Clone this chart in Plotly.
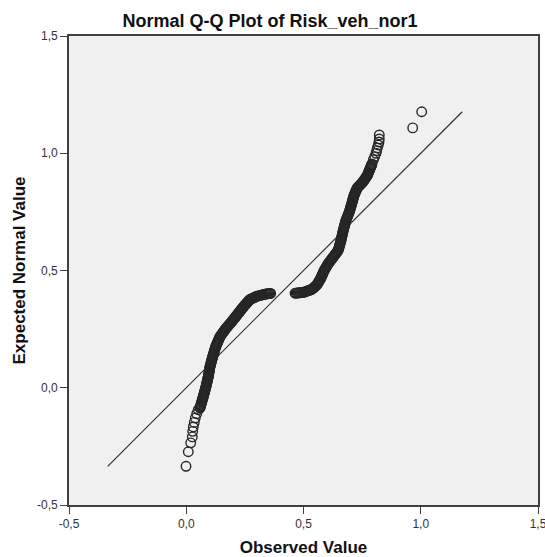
import plotly.graph_objects as go

# Lower tail, left branch, right branch, upper tail
observed = [
    -0.001, 0.0087, 0.019, 0.0258, 0.0275, 0.030, 0.0343, 0.0386, 0.0446, 0.0514,
    0.0586, 0.0610, 0.0633, 0.0657, 0.0680, 0.0704,
    0.0727, 0.0750, 0.0773, 0.0796, 0.0819,
    0.0842, 0.0862, 0.0881, 0.0901, 0.0920,
    0.0940, 0.0955, 0.0969, 0.0984, 0.0998,
    0.1013, 0.1036, 0.1059, 0.1082, 0.1105,
    0.1128, 0.1154, 0.1179, 0.1205, 0.1230,
    0.1256, 0.1293, 0.1329, 0.1366, 0.1402,
    0.1439, 0.1490, 0.1541, 0.1593, 0.1644,
    0.1695, 0.1756, 0.1817, 0.1877,
    0.1938, 0.1994, 0.2051, 0.2107, 0.2164,
    0.2220, 0.2269, 0.2317, 0.2366, 0.2414,
    0.2463, 0.2514, 0.2565, 0.2617, 0.2668,
    0.2719, 0.2797, 0.2875, 0.2952,
    0.3030, 0.3112, 0.3194, 0.3276,
    0.3358, 0.3439, 0.3520, 0.3601,
    0.4638, 0.4726, 0.4814, 0.4902,
    0.4990, 0.5080, 0.5170, 0.5260,
    0.5350, 0.5421, 0.5492,
    0.5563, 0.5606, 0.5648, 0.5691,
    0.5733, 0.5768, 0.5804, 0.5839,
    0.5874, 0.5920, 0.5966, 0.6012,
    0.6058, 0.6111, 0.6165, 0.6218,
    0.6271, 0.6324, 0.6378, 0.6431,
    0.6484, 0.6507, 0.6530, 0.6554, 0.6577,
    0.6600, 0.6619, 0.6639, 0.6658, 0.6678,
    0.6697, 0.6720, 0.6743, 0.6766, 0.6789,
    0.6812, 0.6847, 0.6883, 0.6918,
    0.6953, 0.6979, 0.7004, 0.7030,
    0.7055, 0.7080, 0.7104, 0.7129,
    0.7153, 0.7188, 0.7224, 0.7259,
    0.7294, 0.7352, 0.7409, 0.7467,
    0.7524, 0.7573, 0.7622, 0.7671,
    0.7720, 0.7749, 0.7778, 0.7807,
    0.7836, 0.7864, 0.7893, 0.7921,
    0.7977, 0.8036, 0.8092, 0.8121, 0.8147, 0.8190, 0.8220, 0.8232, 0.8232,
    0.9657, 1.004,
    # further points within the dense band
    0.0598, 0.0622, 0.0645, 0.0669, 0.0692, 0.0716,
    0.0739, 0.0762, 0.0785, 0.0808, 0.0831,
    0.0852, 0.0872, 0.0891, 0.0911, 0.0930,
    0.0948, 0.0962, 0.0977, 0.0991, 0.1006,
    0.1025, 0.1048, 0.1071, 0.1094, 0.1117,
    0.1141, 0.1167, 0.1192, 0.1218, 0.1243,
    0.1275, 0.1311, 0.1348, 0.1384, 0.1421,
    0.1465, 0.1516, 0.1567, 0.1619, 0.1670,
    0.1726, 0.1787, 0.1847, 0.1908,
    0.1966, 0.2023, 0.2079, 0.2136, 0.2192,
    0.2245, 0.2293, 0.2342, 0.2390, 0.2439,
    0.2489, 0.2540, 0.2591, 0.2643, 0.2694,
    0.2758, 0.2836, 0.2914, 0.2991,
    0.3071, 0.3153, 0.3235, 0.3317,
    0.3399, 0.3480, 0.3561,
    0.4682, 0.4770, 0.4858, 0.4946,
    0.5035, 0.5125, 0.5215, 0.5305,
    0.5386, 0.5457, 0.5528,
    0.5585, 0.5627, 0.5670, 0.5712,
    0.5751, 0.5786, 0.5822, 0.5857,
    0.5897, 0.5943, 0.5989, 0.6035,
    0.6085, 0.6138, 0.6192, 0.6245,
    0.6298, 0.6351, 0.6405, 0.6458,
    0.6496, 0.6519, 0.6542, 0.6566, 0.6589,
    0.6610, 0.6629, 0.6649, 0.6668, 0.6688,
    0.6709, 0.6732, 0.6755, 0.6778, 0.6801,
    0.6830, 0.6865, 0.6901, 0.6936,
    0.6966, 0.6992, 0.7017, 0.7043,
    0.7068, 0.7092, 0.7117, 0.7141,
    0.7171, 0.7206, 0.7242, 0.7277,
    0.7323, 0.7381, 0.7438, 0.7496,
    0.7549, 0.7598, 0.7647, 0.7696,
    0.7735, 0.7764, 0.7793, 0.7822,
    0.7850, 0.7879, 0.7907,
]
expected = [
    -0.335, -0.273, -0.235, -0.2097, -0.1859, -0.1672, -0.1477, -0.129, -0.1107, -0.0937,
    -0.0865, -0.0783, -0.0701, -0.0619, -0.0536, -0.0454,
    -0.0372, -0.0287, -0.0202, -0.0117, -0.0032,
    0.0053, 0.0138, 0.0223, 0.0308, 0.0393,
    0.0478, 0.0563, 0.0648, 0.0733, 0.0818,
    0.0903, 0.0988, 0.1073, 0.1158, 0.1243,
    0.1328, 0.1413, 0.1498, 0.1583, 0.1668,
    0.1753, 0.1838, 0.1923, 0.2008, 0.2093,
    0.2178, 0.2249, 0.2321, 0.2392, 0.2464,
    0.2535, 0.2605, 0.2676, 0.2746,
    0.2816, 0.2887, 0.2958, 0.3030, 0.3101,
    0.3172, 0.3234, 0.3296, 0.3359, 0.3421,
    0.3483, 0.3540, 0.3597, 0.3653, 0.3710,
    0.3767, 0.3802, 0.3838, 0.3873,
    0.3908, 0.3929, 0.3951, 0.3972,
    0.3993, 0.4003, 0.4012, 0.4022,
    0.4030, 0.4039, 0.4048, 0.4056,
    0.4065, 0.4097, 0.4129, 0.4161,
    0.4193, 0.4254, 0.4314,
    0.4375, 0.4446, 0.4518, 0.4589,
    0.4660, 0.4741, 0.4822, 0.4902,
    0.4983, 0.5062, 0.5141, 0.5219,
    0.5298, 0.5368, 0.5438, 0.5508,
    0.5578, 0.5649, 0.5721, 0.5792,
    0.5863, 0.5948, 0.6033, 0.6118, 0.6203,
    0.6288, 0.6373, 0.6458, 0.6543, 0.6628,
    0.6713, 0.6798, 0.6883, 0.6968, 0.7053,
    0.7138, 0.7226, 0.7315, 0.7403,
    0.7491, 0.7580, 0.7669, 0.7758,
    0.7847, 0.7935, 0.8024, 0.8112,
    0.8200, 0.8282, 0.8364, 0.8445,
    0.8527, 0.8587, 0.8646, 0.8706,
    0.8765, 0.8836, 0.8908, 0.8979,
    0.9050, 0.9121, 0.9193, 0.9264,
    0.9335, 0.9406, 0.9476, 0.9547,
    0.9717, 0.9857, 0.9998, 1.0113, 1.0227, 1.0355, 1.0482, 1.061, 1.078,
    1.108, 1.177,
    # further points within the dense band
    -0.0824, -0.0742, -0.0660, -0.0578, -0.0495, -0.0413,
    -0.0330, -0.0245, -0.0160, -0.0075, 0.0011,
    0.0096, 0.0181, 0.0266, 0.0351, 0.0436,
    0.0521, 0.0606, 0.0691, 0.0776, 0.0861,
    0.0946, 0.1031, 0.1116, 0.1201, 0.1286,
    0.1371, 0.1456, 0.1541, 0.1626, 0.1711,
    0.1796, 0.1881, 0.1966, 0.2051, 0.2136,
    0.2214, 0.2285, 0.2357, 0.2428, 0.2500,
    0.2570, 0.2641, 0.2711, 0.2781,
    0.2852, 0.2923, 0.2994, 0.3066, 0.3137,
    0.3203, 0.3265, 0.3328, 0.3390, 0.3452,
    0.3512, 0.3569, 0.3625, 0.3682, 0.3739,
    0.3785, 0.3820, 0.3856, 0.3891,
    0.3919, 0.3940, 0.3962, 0.3983,
    0.3998, 0.4008, 0.4017,
    0.4035, 0.4044, 0.4052, 0.4061,
    0.4081, 0.4113, 0.4145, 0.4177,
    0.4224, 0.4284, 0.4345,
    0.4411, 0.4482, 0.4554, 0.4625,
    0.4701, 0.4782, 0.4862, 0.4943,
    0.5023, 0.5102, 0.5180, 0.5259,
    0.5333, 0.5403, 0.5473, 0.5543,
    0.5614, 0.5685, 0.5757, 0.5828,
    0.5906, 0.5991, 0.6076, 0.6161, 0.6246,
    0.6331, 0.6416, 0.6501, 0.6586, 0.6671,
    0.6756, 0.6841, 0.6926, 0.7011, 0.7096,
    0.7182, 0.7271, 0.7359, 0.7447,
    0.7536, 0.7625, 0.7714, 0.7803,
    0.7891, 0.7980, 0.8068, 0.8156,
    0.8241, 0.8323, 0.8405, 0.8486,
    0.8557, 0.8617, 0.8676, 0.8736,
    0.8801, 0.8872, 0.8944, 0.9015,
    0.9086, 0.9157, 0.9229, 0.9300,
    0.9371, 0.9441, 0.9512,
]

tick_values = [-0.5, 0.0, 0.5, 1.0, 1.5]
tick_labels = ["-0,5", "0,0", "0,5", "1,0", "1,5"]

line_ends = [min(expected), max(expected)]

FONT = "Liberation Sans, Arial, sans-serif"

fig = go.Figure()
fig.add_trace(go.Scatter(
    x=line_ends, y=line_ends, mode="lines",
    line=dict(color="#333333", width=1.2),
    hoverinfo="skip", showlegend=False,
))
fig.add_trace(go.Scatter(
    x=observed, y=expected, mode="markers",
    marker=dict(symbol="circle-open", size=9.5, color="#262626",
                line=dict(width=1.4, color="#262626")),
    showlegend=False,
))

axis_common = dict(
    range=[-0.5, 1.5],
    tickmode="array", tickvals=tick_values, ticktext=tick_labels,
    showgrid=False, zeroline=False,
    showline=True, linecolor="#404040", linewidth=1.8, mirror=True,
    ticks="outside", ticklen=7, tickcolor="#404040", tickwidth=1.2,
    tickfont=dict(family=FONT, size=12, color="#333333"),
    ticklabeloverflow="allow",
    automargin=False,
)

fig.update_layout(
    width=545, height=557,
    margin=dict(l=69, r=7, t=36, b=52),
    paper_bgcolor="white", plot_bgcolor="#f0f0f0",
    title=dict(
        text="<b>Normal Q-Q Plot of Risk_veh_nor1</b>",
        x=270 / 545, xanchor="center", xref="container",
        y=1 - 20.5 / 557, yref="container", yanchor="middle",
        font=dict(family=FONT, size=18, color="#111111"),
    ),
    xaxis=dict(
        **axis_common,
        title=dict(text="<b>Observed Value</b>", standoff=12,
                   font=dict(family=FONT, size=17, color="#111111")),
    ),
    yaxis=dict(
        **axis_common,
        title=dict(text="<b>Expected Normal Value</b>", standoff=7,
                   font=dict(family=FONT, size=17, color="#111111")),
    ),
)

# remove the default page margin so the figure sits at the window's corner
fig.write_html(
    "out.html",
    config={"displayModeBar": False},
    post_script="document.body.style.margin='0';document.documentElement.style.overflow='hidden';",
)
